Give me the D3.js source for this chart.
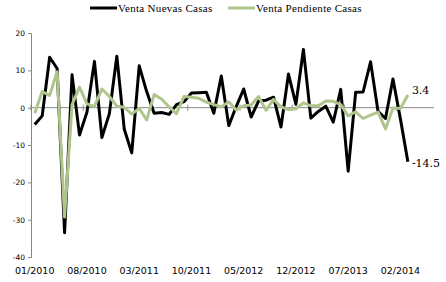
<!DOCTYPE html>
<html>
<head>
<meta charset="utf-8">
<script src="https://cdn.jsdelivr.net/npm/d3@7"></script>
<style>
    body { margin: 0; background: #ffffff; }
    .axis-label { font-family: "DejaVu Sans", Verdana, sans-serif; fill: #000; }
    .legend-label { font-family: "Liberation Serif", "Times New Roman", serif; fill: #000; }
    .end-label { font-family: "DejaVu Serif", Cambria, serif; fill: #000; }
</style>
</head>
<body>
<div id="chart"></div>
<script>
// months 01/2010 .. 06/2014 (last three have no data)
let months = ["01/2010","02/2010","03/2010","04/2010","05/2010","06/2010","07/2010","08/2010","09/2010","10/2010","11/2010","12/2010",
    "01/2011","02/2011","03/2011","04/2011","05/2011","06/2011","07/2011","08/2011","09/2011","10/2011","11/2011","12/2011",
    "01/2012","02/2012","03/2012","04/2012","05/2012","06/2012","07/2012","08/2012","09/2012","10/2012","11/2012","12/2012",
    "01/2013","02/2013","03/2013","04/2013","05/2013","06/2013","07/2013","08/2013","09/2013","10/2013","11/2013","12/2013",
    "01/2014","02/2014","03/2014","04/2014","05/2014","06/2014"];

let tickLabels = ["01/2010","08/2010","03/2011","10/2011","05/2012","12/2012","07/2013","02/2014"];
let yTicks = [20, 10, 0, -10, -20, -30, -40];

let seriesNames = ["Venta Nuevas Casas", "Venta Pendiente Casas"];

let nuevasCasas = [-4.5, -2.2, 13.5, 10.5, -33.5, 8.8, -7.3, -1.2, 12.4, -8.0, -1.6, 13.8,
    -5.8, -12.1, 11.2, 4.3, -1.5, -1.3, -1.8, 0.8, 1.6, 3.9, 4.0, 4.1,
    -1.5, 8.5, -4.8, 0.3, 5.0, -2.5, 1.8, 2.0, 2.8, -5.2, 9.0, 0.9,
    15.6, -2.8, -1.0, 0.4, -3.9, 4.9, -17.0, 4.1, 4.2, 12.3, -1.0, -2.9,
    7.7, -3.0, -14.5];

let pendienteCasas = [-1.5, 4.3, 3.3, 9.6, -29.3, 0.8, 5.5, 1.0, 0.3, 5.0, 3.0, 0.4,
    0.1, -1.7, -0.2, -3.3, 3.5, 2.3, 0.2, -1.6, 3.0, 2.8, 2.5, 1.5,
    0.8, 0.2, 1.6, -0.6, 0.5, 0.7, 3.0, -0.7, 2.2, 0.2, -0.5, -0.3,
    1.3, 0.5, 0.5, 1.8, 1.7, 0.8, -2.2, -1.1, -2.9, -2.0, -1.2, -5.7,
    -0.1, -0.2, 3.4];

let colors = ["#000000", "#afc58c"];

let width = 446, height = 282;
let plot = {left: 31, right: 434, top: 33, bottom: 257};

let svg = d3.select("#chart").append("svg")
    .attr("width", width)
    .attr("height", height);

let xScale = d3.scalePoint().domain(months).range([plot.left, plot.right]).padding(0.5);
let step = xScale.step();
let yScale = d3.scaleLinear().domain([-40, 20]).range([plot.bottom, plot.top]);

//---Y AXIS-----------------------------------------------------------
let yAxis = d3.axisLeft(yScale)
    .tickValues(yTicks)
    .tickSize(3)
    .tickPadding(3)
    .tickFormat(d => d < 0 ? "-" + Math.abs(d) : d);

let yAx = svg.append("g")
    .attr("transform", "translate(" + plot.left + ",0)")
    .call(yAxis);
yAx.select(".domain").attr("stroke", "#868686");
yAx.selectAll(".tick line").attr("stroke", "#868686");
yAx.selectAll("text")
    .attr("class", "axis-label")
    .style("font-size", "7.5px");

//---ZERO LINE (category axis crosses at 0)----------------------------
let zeroY = yScale(0);
svg.append("line")
    .attr("x1", plot.left).attr("x2", plot.right)
    .attr("y1", zeroY).attr("y2", zeroY)
    .attr("stroke", "#868686")
    .attr("stroke-width", 1);

// tick marks between categories, every 7 months
let tickBounds = d3.range(0, months.length + 1, 7);
svg.selectAll(".xtick")
    .data(tickBounds)
    .enter().append("line")
    .attr("class", "xtick")
    .attr("x1", d => plot.left + d * step)
    .attr("x2", d => plot.left + d * step)
    .attr("y1", zeroY - 3)
    .attr("y2", zeroY + 3)
    .attr("stroke", "#868686");

// labels sit at the bottom of the plot
svg.selectAll(".xlabel")
    .data(tickLabels)
    .enter().append("text")
    .attr("class", "axis-label")
    .attr("x", d => xScale(d))
    .attr("y", 274)
    .attr("text-anchor", "middle")
    .style("font-size", "9.5px")
    .text(d => d);

//---LINES------------------------------------------------------------
let lineGen = d3.line()
    .x((d, i) => xScale(months[i]))
    .y(d => yScale(d));

[nuevasCasas, pendienteCasas].forEach((series, k) => {
    svg.append("path")
        .datum(series)
        .attr("fill", "none")
        .attr("stroke", colors[k])
        .attr("stroke-width", 3)
        .attr("stroke-linejoin", "round")
        .attr("d", lineGen);
});

//---END LABELS-------------------------------------------------------
let endLabels = [
    {series: nuevasCasas, dy: 5},
    {series: pendienteCasas, dy: -1}
];
endLabels.forEach(l => {
    let last = l.series.length - 1;
    svg.append("text")
        .attr("class", "end-label")
        .attr("x", xScale(months[last]) + 4)
        .attr("y", yScale(l.series[last]) + l.dy)
        .style("font-size", "11px")
        .text(l.series[last].toFixed(1));
});

//---LEGEND-----------------------------------------------------------
let legendX = [90, 228];
seriesNames.forEach((name, k) => {
    svg.append("line")
        .attr("x1", legendX[k]).attr("x2", legendX[k] + 27)
        .attr("y1", 8).attr("y2", 8)
        .attr("stroke", colors[k])
        .attr("stroke-width", 3);
    svg.append("text")
        .attr("class", "legend-label")
        .attr("x", legendX[k] + 28)
        .attr("y", 12)
        .style("font-size", "11px")
        .style("letter-spacing", "0.3px")
        .text(name);
});
</script>
</body>
</html>
